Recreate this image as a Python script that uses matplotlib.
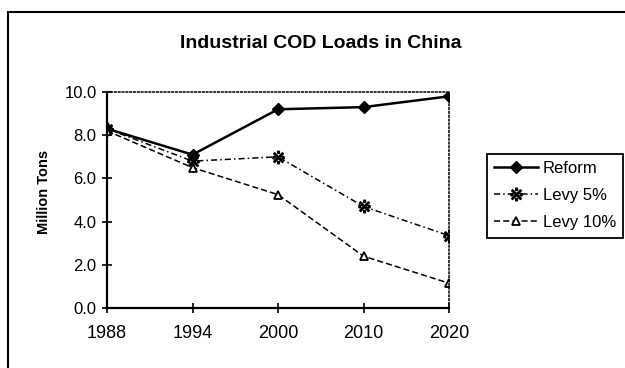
import matplotlib
matplotlib.use("Agg")
from matplotlib import pyplot as plt
from matplotlib.patches import Rectangle

plt.rcParams['font.family'] = ['Liberation Sans', 'DejaVu Sans']

years = ["1988", "1994", "2000", "2010", "2020"]
reform = [8.3, 7.1, 9.2, 9.3, 9.8]
levy5 = [8.3, 6.8, 7.0, 4.7, 3.35]
levy10 = [8.2, 6.5, 5.25, 2.4, 1.15]

fig = plt.figure(figsize=(6.25, 3.68), dpi=100)
ax = fig.add_axes([0.1712, 0.163, 0.5472, 0.587])

x = range(len(years))
ax.plot(x, reform, color="black", lw=1.8, marker="D", ms=6.5, label="Reform")
ax.plot(x, levy5, color="black", lw=1.1, ls=(0, (4, 2, 1, 2)),
        marker="$\u203B$", ms=9, label="Levy 5%")
ax.plot(x, levy10, color="black", lw=1.1, ls=(0, (4, 2)),
        marker="^", ms=6, mfc="white", mew=1.3, label="Levy 10%")

ax.set_xlim(0, 4)
ax.set_ylim(0, 10)
ax.set_xticks(list(x))
ax.set_xticklabels(years, fontsize=13)
ax.set_yticks([0, 2, 4, 6, 8, 10])
ax.set_yticklabels(["%.1f" % v for v in [0, 2, 4, 6, 8, 10]], fontsize=12)
ax.tick_params(direction="inout", length=7, width=1.2, pad=4)
ax.tick_params(axis="x", pad=9)
ax.set_ylabel("Million Tons", fontsize=10.5, fontweight="bold")
ax.yaxis.set_label_coords(-0.164, 0.537)

ax.spines["left"].set_linewidth(1.6)
ax.spines["bottom"].set_linewidth(1.6)
for s in ["top", "right"]:
    ax.spines[s].set_linestyle((0, (1, 1.5)))
    ax.spines[s].set_linewidth(1.1)

fig.text(0.514, 0.883, "Industrial COD Loads in China", ha="center", va="center",
         fontsize=14, fontweight="bold")

leg = fig.legend(loc="upper left", bbox_to_anchor=(0.779, 0.582),
                 bbox_transform=fig.transFigure, borderaxespad=0,
                 fancybox=False, edgecolor="black", framealpha=1,
                 fontsize=12, handlelength=2.6, handletextpad=0.3,
                 labelspacing=0.72, borderpad=0.45)
leg.get_frame().set_linewidth(1.3)

fig.add_artist(Rectangle((0.013, -0.1), 1.1, 1.067, transform=fig.transFigure,
                         fill=False, edgecolor="black", lw=1.5, clip_on=False))

fig.savefig("out.png", dpi=100)
